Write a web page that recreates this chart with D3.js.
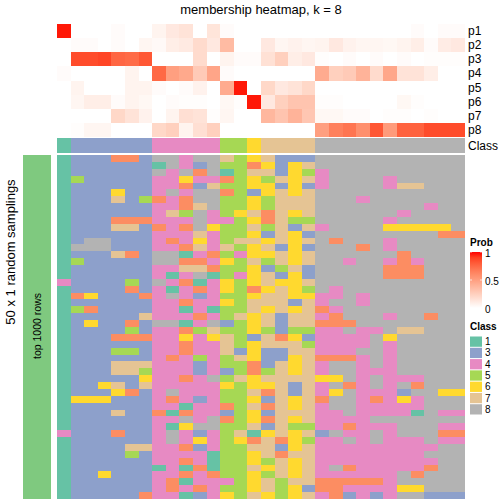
<!DOCTYPE html>
<html><head><meta charset="utf-8">
<script src="https://cdn.jsdelivr.net/npm/d3@7"></script>
<style>html,body{margin:0;padding:0;background:#fff}svg{display:block}text{font-family:"Liberation Sans",Arial,sans-serif;fill:#000}</style>
</head><body><svg id="c" width="504" height="504"></svg>
<script>
const probNames = ["p1","p2","p3","p4","p5","p6","p7","p8"];
const p1 = [.98,0,0,0,.02,0,0,.06,.12,.15,0,.14,.02,0,0,0,0,0,0,0,0,0,0,0,0,0,.02,0,.02,.02];
const p2 = [0,.02,.02,0,.02,0,.05,.03,.09,.11,.19,.12,.36,0,0,.12,.05,.07,.05,.06,.12,.07,.05,.05,.04,.06,.09,.02,.1,.12];
const p3 = [0,.86,.86,.88,.76,.74,.82,0,0,0,.19,0,.06,.02,.02,.16,.25,.09,.12,.01,0,.02,0,.02,0,.02,0,.01,.01,.01];
const p4 = [.02,0,0,0,0,.06,0,.75,.5,.45,.28,.47,.02,0,0,0,0,0,0,.44,.25,.28,.4,.19,.46,.15,.15,.09,0,0];
const p5 = [0,.06,0,0,0,.06,.06,.02,0,.02,.07,0,.44,.98,0,.21,.12,.15,.21,0,0,0,0,0,0,0,0,0,0,0];
const p6 = [0,.05,.09,.09,.02,.06,.04,0,.02,.01,.01,0,.04,.01,.98,.12,.25,.31,.31,.01,.01,0,0,0,0,.04,.01,0,0,0];
const p7 = [0,0,0,0,.21,.15,.07,0,.06,.17,.15,.01,.05,0,0,.38,.31,.4,.3,.04,.04,.02,.02,0,.01,.01,0,.01,0,0];
const p8 = [0,.01,.05,.05,0,0,0,.21,.25,.06,.17,.25,0,0,0,0,0,0,0,.5,.65,.7,.58,.82,.52,.78,.78,.86,.86,.86];
const probRows = [p1,p2,p3,p4,p5,p6,p7,p8];
const colClasses = [1,3,3,3,3,3,3,4,4,4,4,4,5,5,6,7,7,7,7,8,8,8,8,8,8,8,8,8,8,8];
const legendClasses = [1,3,4,5,6,7,8];
const classDomain = [1,2,3,4,5,6,7,8];
const classColors = ["#66C2A5","#FC8D62","#8DA0CB","#E78AC3","#A6D854","#FFD92F","#E5C494","#B3B3B3"];
const samplings = [
"133322388488756733388888888888","133333318438552636788888888888","133333384828157736548888888888",
"153333344644256576748888488888","133333344237556636348888477888","133363348488253676788888888888",
"133373524288556577788848888888","133333344278556577788888888488","133333347584567276788888848888",
"133322244484456275588888488888","133377324286557573748888666668","133333344474556376388888888822",
"138833342464577676782888488888","188833344274756736388828488888","133372388142546676788888828888",
"153333388224657576788488424888","133333344772556357388888222888","133333341481546736388888222888",
"433335384214656766788888888888","133332341424652676584888888888","126333248434556776644848888888",
"133333344244657773748848888888","152333344141557676724888888888","133333744424576737742888488288",
"136332388148356737722288888888","133335344257556535544844877888","133322244646753726344448688888",
"133333344244756777544448488888","133355344244736337744488488888","133333342454576336722248488888",
"133377744434552376748848488888","133377544434352576748844488888","133333644248576777766848444888",
"133673744444656673748248482888","133362348444557273746844438866","166633342434556376728842464888",
"133333344144257276748844444888","133373321244356377744844441844","133333344848256276744448888888",
"133333341688557375544244488844","433323348434571676738448488822","133333348464562726544848444844",
"133337744234557736744444444488","133335344441556727744444444888","133333344241556576744444444488",
"133333314121557676748244444288","133633344242556576744444482888","133333342144456757722222488888",
"133333342424556756322444466888","133333244134657656742343488333"];
const plotTitle = "membership heatmap, k = 8";
const yTitle = "50 x 1 random samplings";
const stripLabel = "top 1000 rows";

const svg = d3.select("#c");
const cols = d3.range(colClasses.length);
const x = d3.scaleBand().domain(cols).range([57,465]);
const yTop = d3.scaleBand().domain(probNames).range([24,137]);
const yMain = d3.scaleBand().domain(d3.range(samplings.length)).range([155,499]);
const probColor = d3.scaleLinear().domain([0,1]).range(["#ffffff","#ff0000"]).interpolate(d3.interpolateLab);
const classColor = d3.scaleOrdinal().domain(classDomain).range(classColors);
const crisp = s => s.attr("shape-rendering","crispEdges");

svg.append("text").attr("x",261).attr("y",14).attr("text-anchor","middle").attr("font-size",13).text(plotTitle);

// probability heatmap
probRows.forEach((row,i)=>{
  svg.append("g").selectAll("rect").data(row).join("rect")
    .attr("x",(d,j)=>x(j)).attr("width",x.bandwidth())
    .attr("y",yTop(probNames[i])).attr("height",yTop.bandwidth())
    .attr("fill",d=>probColor(d)).call(crisp);
});
svg.append("g").selectAll("text").data(probNames).join("text")
  .attr("x",468).attr("y",d=>yTop(d)+yTop.bandwidth()/2+4).attr("font-size",12).text(d=>d);

// class annotation
svg.append("g").selectAll("rect").data(colClasses).join("rect")
  .attr("x",(d,j)=>x(j)).attr("width",x.bandwidth()).attr("y",138).attr("height",15)
  .attr("fill",d=>classColor(d)).call(crisp);
svg.append("text").attr("x",468).attr("y",150).attr("font-size",12).text("Class");

// main membership heatmap
samplings.forEach((row,r)=>{
  svg.append("g").selectAll("rect").data(row.split("").map(Number)).join("rect")
    .attr("x",(d,j)=>x(j)).attr("width",x.bandwidth())
    .attr("y",yMain(r)).attr("height",yMain.bandwidth())
    .attr("fill",d=>classColor(d)).call(crisp);
});

// left strip and titles
svg.append("rect").attr("x",23).attr("y",155).attr("width",28).attr("height",344).attr("fill","#7FC97F").call(crisp);
svg.append("text").attr("transform","translate(37,326) rotate(-90)").attr("dy","0.35em").attr("text-anchor","middle").attr("font-size",10.5).text(stripLabel);
svg.append("text").attr("transform","translate(10,252) rotate(-90)").attr("dy","0.35em").attr("text-anchor","middle").attr("font-size",13).text(yTitle);

// Prob legend
const legX = 470, legW = 12;
const legY = d3.scaleLinear().domain([0,1]).range([308,252]);
const defs = svg.append("defs");
const grad = defs.append("linearGradient").attr("id","pg").attr("x1",0).attr("x2",0).attr("y1",1).attr("y2",0);
d3.range(0,1.01,0.1).forEach(t=>grad.append("stop").attr("offset",t).attr("stop-color",probColor(t)));
svg.append("text").attr("x",legX).attr("y",246).attr("font-size",10).attr("font-weight","bold").text("Prob");
svg.append("rect").attr("x",legX).attr("y",legY(1)).attr("width",legW).attr("height",legY(0)-legY(1)).attr("fill","url(#pg)");
const legTicks = [0,0.5,1];
const tg = svg.append("g").selectAll("g").data(legTicks).join("g");
tg.append("line").attr("x1",legX).attr("x2",legX+2).attr("y1",d=>legY(d)).attr("y2",d=>legY(d)).attr("stroke","#fff").attr("stroke-width",0.7);
tg.append("line").attr("x1",legX+legW-2).attr("x2",legX+legW).attr("y1",d=>legY(d)).attr("y2",d=>legY(d)).attr("stroke","#fff").attr("stroke-width",0.7);
tg.append("text").attr("x",legX+15).attr("y",d=>legY(d)+4.5).attr("font-size",10).text(d=>d);

// Class legend
svg.append("text").attr("x",legX).attr("y",330).attr("font-size",10).attr("font-weight","bold").text("Class");
const legC = d3.scaleBand().domain(legendClasses).range([336,415]);
const cg = svg.append("g").selectAll("g").data(legendClasses).join("g");
cg.append("rect").attr("x",legX).attr("y",d=>legC(d)+0.5).attr("width",legW).attr("height",legC.bandwidth()-1).attr("fill",d=>classColor(d));
cg.append("text").attr("x",legX+15).attr("y",d=>legC(d)+legC.bandwidth()/2+3.5).attr("font-size",10).text(d=>d);
</script></body></html>
